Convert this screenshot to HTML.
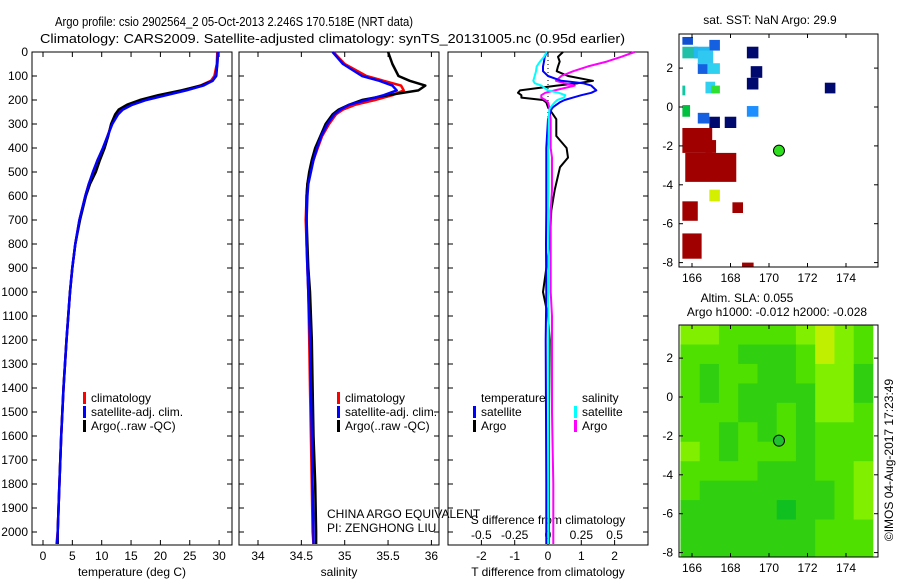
<!DOCTYPE html>
<html><head><meta charset="utf-8"><style>
body{margin:0;background:#fff}
svg{display:block;font-family:"Liberation Sans",sans-serif}
text{fill:#000}
</style></head><body>
<svg id="c" width="900" height="580" viewBox="0 0 900 580">
<text x="55" y="26" font-size="13" textLength="358" lengthAdjust="spacingAndGlyphs">Argo profile: csio 2902564_2 05-Oct-2013 2.246S 170.518E (NRT data)</text>
<text x="40" y="43" font-size="13" textLength="585" lengthAdjust="spacingAndGlyphs">Climatology: CARS2009. Satellite-adjusted climatology: synTS_20131005.nc (0.95d earlier)</text>
<g id="g"></g>
</svg>
<script>
// ---------- data ----------
const depths = [0,50,100,120,140,160,180,200,220,240,260,300,350,400,450,500,550,600,700,800,900,1000,1200,1400,1600,1800,2000,2050];
const tempClim = [29.7,29.6,29.2,28.6,26.8,23.8,20.3,17.2,14.8,13.3,12.6,11.7,11.0,10.3,9.3,8.6,7.8,7.2,6.2,5.5,5.0,4.6,4.0,3.5,3.1,2.8,2.5,2.3];
const tempSat  = [29.8,29.7,29.4,28.9,27.3,24.4,21.0,17.6,15.2,13.6,12.8,11.8,11.0,10.2,9.3,8.5,7.8,7.2,6.2,5.5,5.0,4.6,4.0,3.5,3.1,2.8,2.5,2.4];
const tempArgo = [29.8,29.7,29.5,28.9,26.9,23.6,19.6,16.5,14.3,12.9,12.3,11.6,11.1,10.5,9.7,9.0,8.0,7.3,6.3,5.5,5.0,4.6,4.0,3.5,3.1,2.8,2.5,2.5];
const salClim = [34.87,35.0,35.25,35.45,35.65,35.68,35.55,35.35,35.12,34.98,34.90,34.82,34.74,34.69,34.64,34.60,34.57,34.56,34.55,34.56,34.57,34.58,34.59,34.60,34.61,34.62,34.63,34.64];
const salSat  = [34.86,34.98,35.2,35.4,35.55,35.6,35.45,35.25,35.05,34.95,34.88,34.80,34.73,34.68,34.64,34.61,34.58,34.57,34.56,34.56,34.57,34.58,34.60,34.61,34.62,34.63,34.64,34.64];
const salArgo = [35.5,35.55,35.62,35.75,35.93,35.85,35.5,35.2,35.05,34.93,34.86,34.78,34.72,34.66,34.62,34.59,34.57,34.56,34.56,34.57,34.58,34.60,34.62,34.63,34.64,34.66,34.67,34.67];
const dDepths = [0,20,40,60,80,100,120,130,140,160,170,180,190,200,210,230,240,280,350,400,440,480,575,660,800,1000,1100,1200,1500,1800,2050];
const dTArgo = [0.45,0.3,0.35,0.3,0.26,0.6,1.35,0.9,0.26,-0.84,-0.9,-0.8,-0.8,-0.15,-0.05,0.0,0.05,0.25,0.25,0.56,0.6,0.36,0.2,0.1,0.05,-0.15,0.0,0.05,0.03,0.03,0.03];
const dTSat  = [-0.03,-0.1,-0.12,-0.15,-0.15,0.0,0.4,1.05,1.3,1.45,1.3,1.0,0.75,0.5,0.35,0.15,0.1,0.0,-0.03,-0.05,-0.05,-0.05,-0.05,-0.05,-0.06,-0.05,-0.06,-0.07,-0.06,-0.05,-0.05];
const dSSat  = [-0.01,-0.03,-0.06,-0.085,-0.09,-0.1,-0.11,-0.1,-0.05,0.0,0.08,0.13,0.12,0.07,0.05,0.02,0.01,0.005,0.005,0.003,0.003,0.003,0.003,0.003,0.003,0.003,0.003,0.003,0.003,0.003,0.003];
const dSArgo = [0.65,0.55,0.44,0.3,0.19,0.1,0.06,0.12,0.2,0.05,-0.02,-0.05,-0.05,-0.02,0.0,0.01,0.01,0.02,0.02,0.02,0.03,0.03,0.03,0.02,0.02,0.02,0.03,0.03,0.03,0.04,0.04];
const depthTicks = [0,100,200,300,400,500,600,700,800,900,1000,1100,1200,1300,1400,1500,1600,1700,1800,1900,2000];
const tempTicks = [0,5,10,15,20,25,30];
const salTicks = [34,34.5,35,35.5,36];
const tdTicks = [-2,-1,0,1,2];
const sdTicks = [-0.5,-0.25,0,0.25,0.5];
const latTicks = [2,0,-2,-4,-6,-8];
const lonTicks = [166,168,170,172,174];
// SST map cells: [lonMin, lonMax, latMax, latMin, colour]
const sstCells = [
 [168.85,169.45,3.1,2.5,'#000a6e'],[169.05,169.65,2.1,1.5,'#000a6e'],[168.85,169.45,1.5,0.9,'#000a6e'],[172.9,173.45,1.25,0.7,'#000a6e'],
 [166.9,167.45,-0.5,-1.08,'#000a6e'],[167.7,168.3,-0.5,-1.08,'#000a6e'],
 [165.5,166.05,3.6,3.2,'#1050d0'],[166.9,167.45,3.45,2.9,'#1560e0'],[166.3,166.9,2.25,1.7,'#1560e0'],[166.3,166.9,-0.3,-0.85,'#1560e0'],
 [168.85,169.45,0.05,-0.5,'#1e8fff'],
 [165.5,166.3,3.1,2.5,'#20c0a8'],[166.1,166.9,3.1,2.5,'#22b8f0'],[166.3,167.1,2.9,2.2,'#30c8f0'],[166.8,167.45,2.25,1.7,'#30d0f0'],
 [166.7,167.2,1.3,0.7,'#30d0f0'],[167.0,167.45,1.1,0.7,'#30e030'],[165.5,165.65,1.1,0.6,'#10c8a0'],[165.5,165.9,0.1,-0.5,'#00c040'],
 [165.5,167.05,-1.08,-2.36,'#a00000'],[165.65,168.3,-2.36,-3.85,'#a00000'],[166.7,167.25,-1.7,-2.36,'#a00000'],
 [165.5,166.3,-4.85,-5.85,'#a00000'],[168.1,168.65,-4.9,-5.45,'#a00000'],[165.5,166.5,-6.5,-7.8,'#a00000'],[168.6,169.2,-8.0,-8.3,'#a00000'],
 [166.9,167.45,-4.25,-4.85,'#d4f000']
];
const slaColours = ['#10c020','#30d010','#50e000','#80f000','#c0f000'];
const slaGrid = [
 [3,3,2,2,2,2,3,4,3,2],[2,2,2,1,1,1,2,4,3,2],[2,1,2,2,1,1,2,3,3,1],[2,1,2,1,1,1,1,3,3,1],
 [2,2,2,1,1,2,1,3,3,2],[2,2,1,2,1,2,1,2,2,2],[3,2,1,2,2,2,1,2,2,2],[2,2,2,2,1,1,1,2,2,3],
 [2,1,1,1,1,1,1,1,2,3],[1,1,1,1,1,0,1,1,2,3],[1,1,1,1,1,1,1,2,2,2],[1,1,1,1,1,1,1,2,2,2]];
const argoLon = 170.518, argoLat = -2.246;

// ---------- drawing ----------
const NS='http://www.w3.org/2000/svg', G=document.getElementById('g');
function el(t,a,p){const e=document.createElementNS(NS,t);for(const k in a)e.setAttribute(k,a[k]);(p||G).appendChild(e);return e;}
function txt(x,y,s,sz,anch,p){const e=el('text',{x:x,y:y,'font-size':sz||12,'text-anchor':anch||'start'},p);e.textContent=s;return e;}
const TOP=52, BOT=545;
const yD=d=>TOP+d*0.24;
const xT=t=>43+t*5.87;
const xS=s=>258+(s-34)*86.7;
const xdT=v=>548+v*33.3;
const xdS=v=>548+v*133.3;
const panels=[[32,232],[239,439],[448,648]];
function line(xs,ds,fx,col,name,w){
  const pts=xs.map((v,i)=>fx(v).toFixed(1)+','+yD(ds[i]).toFixed(1)).join(' ');
  const e=el('polyline',{points:pts,fill:'none',stroke:col,'stroke-width':w||2.5,'stroke-linejoin':'round'});
  
  
}
panels.forEach((p,i)=>{
  const r=el('rect',{x:p[0],y:TOP,width:p[1]-p[0],height:BOT-TOP,fill:'none',stroke:'#000','stroke-width':1});
  
  
  depthTicks.forEach(d=>{
    el('line',{x1:p[0],x2:p[0]+5,y1:yD(d),y2:yD(d),stroke:'#000'});
    el('line',{x1:p[1]-5,x2:p[1],y1:yD(d),y2:yD(d),stroke:'#000'});
    if(i===0){const t=txt(28,yD(d)+4,String(d),12,'end');
      
      }
  });
});
function xticks(ticks,fx,p,lab){ticks.forEach(v=>{const x=fx(v);
  el('line',{x1:x,x2:x,y1:BOT-5,y2:BOT,stroke:'#000'});el('line',{x1:x,x2:x,y1:TOP,y2:TOP+5,stroke:'#000'});
  if(lab){const t=txt(x,560,String(v),12,'middle');}});}
xticks(tempTicks,xT,panels[0],true);
xticks(salTicks,xS,panels[1],true);
xticks(tdTicks,xdT,panels[2],true);
sdTicks.forEach(v=>{const t=txt(xdS(v),539,String(v),12,'middle');});
txt(132,576,'temperature (deg C)',12,'middle');
txt(339,576,'salinity',12,'middle');
txt(548,576,'T difference from climatology',12,'middle');
txt(548,524,'S difference from climatology',12,'middle');
// zero dotted line
el('line',{x1:xdT(0),x2:xdT(0),y1:TOP,y2:yD(300),stroke:'#000','stroke-dasharray':'1 3'});
// series
line(tempClim,depths,xT,'#ff0000','temp-climatology-line');
line(tempArgo,depths,xT,'#000','temp-argo-line');
line(tempSat,depths,xT,'#0000ff','temp-satellite-line');
line(salClim,depths,xS,'#ff0000','sal-climatology-line');
line(salArgo,depths,xS,'#000','sal-argo-line');
line(salSat,depths,xS,'#0000ff','sal-satellite-line');
line(dTArgo,dDepths,xdT,'#000','tdiff-argo-line',2);
line(dSArgo,dDepths,xdS,'#ff00ff','sdiff-argo-line',2);
line(dTSat,dDepths,xdT,'#0000ff','tdiff-satellite-line',2);
line(dSSat,dDepths,xdS,'#00ffff','sdiff-satellite-line',2);
// legends
function leg(x,y,col,s){el('rect',{x:x,y:y-10,width:3,height:12,fill:col});const t=txt(x+8,y,s,12);}
[[83,'#f00','climatology'],[83,'#00f','satellite-adj. clim.'],[83,'#000','Argo(..raw -QC)']].forEach((l,i)=>leg(l[0],402+i*14,l[1],l[2]));
[[337,'#f00','climatology'],[337,'#00f','satellite-adj. clim.'],[337,'#000','Argo(..raw -QC)']].forEach((l,i)=>leg(l[0],402+i*14,l[1],l[2]));
txt(481,402,'temperature',12);txt(582,402,'salinity',12);
leg(473,416,'#00f','satellite');leg(473,430,'#000','Argo');
leg(574,416,'#0ff','satellite');leg(574,430,'#f0f','Argo');
txt(327,518,'CHINA ARGO EQUIVALENT',12);
txt(327,532,'PI: ZENGHONG LIU',12);
// maps
const MX0=679,MX1=878;
const mx=l=>692+(l-166)*19.25;
function map(y0,y1,lat0y,name){
  const my=la=>lat0y-la*19.45;
  const cp='clip'+name;
  const d=el('clipPath',{id:cp});el('rect',{x:MX0,y:y0,width:MX1-MX0,height:y1-y0},d);
  const g=el('g',{'clip-path':'url(#'+cp+')'});
  return {my,g};
}
// SST map
const m1=map(34,267,107,'sst');
sstCells.forEach(c=>{const r=el('rect',{x:mx(c[0]),y:m1.my(c[2]),width:mx(c[1])-mx(c[0]),height:m1.my(c[3])-m1.my(c[2]),fill:c[4]},m1.g);
  });
// SLA map
const m2=map(325,557,397,'sla');
slaGrid.forEach((row,ri)=>row.forEach((v,ci)=>{const la=3.7-ri;const lo=165.4+ci;
  const r=el('rect',{x:mx(lo),y:m2.my(la),width:19.6,height:19.9,fill:slaColours[v]},m2.g);
  }));
[[34,267,m1,'sst-map'],[325,557,m2,'sla-map']].forEach(([y0,y1,m,nm],k)=>{
  const r=el('rect',{x:MX0,y:y0,width:MX1-MX0,height:y1-y0,fill:'none',stroke:'#000'});
  
  latTicks.forEach(la=>{const y=m.my(la);el('line',{x1:MX0,x2:MX0+4,y1:y,y2:y,stroke:'#000'});el('line',{x1:MX1-4,x2:MX1,y1:y,y2:y,stroke:'#000'});txt(673,y+4,String(la),12,'end');});
  lonTicks.forEach(lo=>{const x=mx(lo);el('line',{x1:x,x2:x,y1:y0,y2:y0+4,stroke:'#000'});el('line',{x1:x,x2:x,y1:y1-4,y2:y1,stroke:'#000'});txt(x,y1+15,String(lo),12,'middle');});
  const c=el('circle',{cx:mx(argoLon),cy:m.my(argoLat),r:5.5,fill:k?'#20c030':'#30e020',stroke:'#000','stroke-width':1});
  
});
txt(770,24,'sat. SST: NaN Argo: 29.9',12,'middle');
txt(747,302,'Altim. SLA: 0.055',12,'middle');
txt(777,316,'Argo h1000: -0.012 h2000: -0.028',12,'middle');
const cr=txt(0,0,'©IMOS 04-Aug-2017 17:23:49',12,'middle');
cr.setAttribute('transform','translate(893,460) rotate(-90)');

</script>
</body></html>
